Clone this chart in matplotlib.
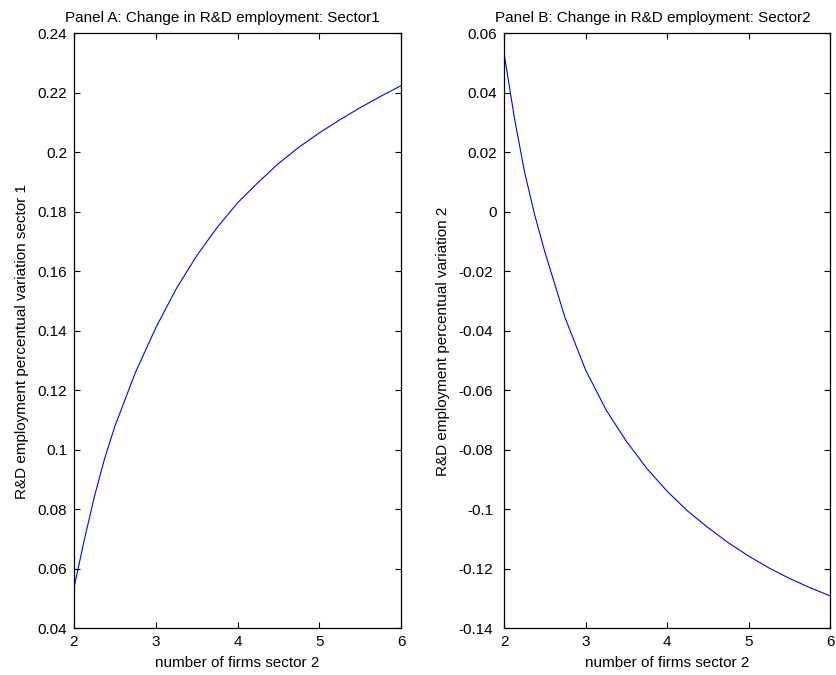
import numpy as np
import matplotlib.pyplot as plt
import matplotlib.transforms as mtransforms

plt.rcParams['font.family'] = ['Liberation Sans', 'DejaVu Sans']

# number of firms in sector 2
n_firms = [2.0, 2.125, 2.25, 2.375, 2.5, 2.75, 3.0, 3.25, 3.5, 3.75, 4.0,
           4.25, 4.5, 4.75, 5.0, 5.25, 5.5, 5.75, 6.0]

# percentual variation of R&D employment, sector 1 and sector 2
rd_sector1 = [0.0535, 0.0695, 0.0842, 0.0970, 0.1078, 0.1258, 0.1409,
              0.1540, 0.1651, 0.1746, 0.1829, 0.1897, 0.1961, 0.2016,
              0.2064, 0.2108, 0.2149, 0.2187, 0.2223]
rd_sector2 = [0.0533, 0.0318, 0.0135, -0.0010, -0.0135, -0.0358, -0.0532,
              -0.0666, -0.0772, -0.0863, -0.0940, -0.1006, -0.1062,
              -0.1113, -0.1158, -0.1198, -0.1233, -0.1264, -0.1292]

yticks1 = np.arange(0.04, 0.2401, 0.02)
yticks2 = np.arange(-0.14, 0.0601, 0.02)

fig = plt.figure(figsize=(8.36, 6.75), dpi=100)
ax1 = fig.add_axes([0.0885, 0.0696, 0.3912, 0.8815])
ax2 = fig.add_axes([0.6029, 0.0696, 0.3900, 0.8815])

panels = [
    (ax1, rd_sector1, yticks1, (0.04, 0.24),
     'Panel A: Change in R&D employment: Sector1',
     'R&D employment percentual variation sector 1'),
    (ax2, rd_sector2, yticks2, (-0.14, 0.06),
     'Panel B: Change in R&D employment: Sector2',
     'R&D employment percentual variation 2'),
]

for ax, vals, yt, ylim, title, ylabel in panels:
    ax.plot(n_firms, vals, color='#0000ff', linewidth=0.8)
    ax.set_xlim(2, 6)
    ax.set_ylim(*ylim)
    ax.set_xticks([2, 3, 4, 5, 6])
    ax.set_yticks(yt)
    ax.set_yticklabels(['%g' % round(v, 2) for v in yt])
    ax.tick_params(direction='in', length=4.5, width=0.8, labelsize=11,
                   top=True, right=True, pad=5)
    for s in ax.spines.values():
        s.set_linewidth(0.9)
    ax.set_title(title, fontsize=11, pad=8, x=0.455)
    ax.set_xlabel('number of firms sector 2', fontsize=11, labelpad=5)
    ax.set_ylabel(ylabel, fontsize=11, labelpad=6)
    ax.yaxis.label.set_y(0.482)

# negative tick labels sit a little further from the axis
shift = mtransforms.ScaledTranslation(-4 / 100, 0, fig.dpi_scale_trans)
for lab, v in zip(ax2.get_yticklabels(), yticks2):
    if v < -1e-9:
        lab.set_transform(lab.get_transform() + shift)

fig.savefig('out.png', dpi=100)
